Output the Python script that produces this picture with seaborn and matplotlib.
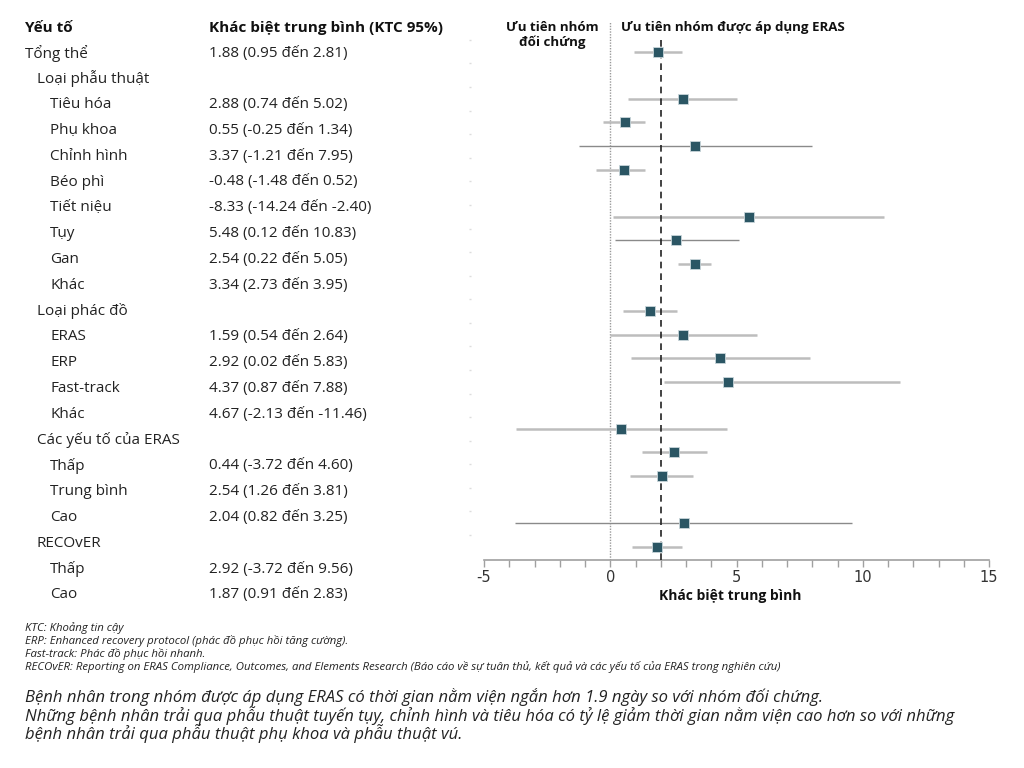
import numpy as np
import pandas as pd
import seaborn as sns
import matplotlib.pyplot as plt

sns.set_theme(style='white')
plt.rcParams['font.family'] = ['Open Sans', 'DejaVu Sans']
plt.rcParams['axes.unicode_minus'] = False

# table rows (label, indent level)
labels = ['Tổng thể', 'Loại phẫu thuật', 'Tiêu hóa', 'Phụ khoa', 'Chỉnh hình',
          'Béo phì', 'Tiết niệu', 'Tụy', 'Gan', 'Khác', 'Loại phác đồ', 'ERAS',
          'ERP', 'Fast-track', 'Khác', 'Các yếu tố của ERAS', 'Thấp',
          'Trung bình', 'Cao', 'RECOvER', 'Thấp', 'Cao']
levels = [0, 1, 2, 2, 2, 2, 2, 2, 2, 2, 1, 2, 2, 2, 2, 1, 2, 2, 2, 1, 2, 2]

# values printed in the table (None = group header)
tab_est = [1.88, None, 2.88, 0.55, 3.37, -0.48, -8.33, 5.48, 2.54, 3.34, None,
           1.59, 2.92, 4.37, 4.67, None, 0.44, 2.54, 2.04, None, 2.92, 1.87]
tab_lo = [0.95, None, 0.74, -0.25, -1.21, -1.48, -14.24, 0.12, 0.22, 2.73, None,
          0.54, 0.02, 0.87, -2.13, None, -3.72, 1.26, 0.82, None, -3.72, 0.91]
tab_hi = [2.81, None, 5.02, 1.34, 7.95, 0.52, -2.40, 10.83, 5.05, 3.95, None,
          2.64, 5.83, 7.88, -11.46, None, 4.60, 3.81, 3.25, None, 9.56, 2.83]

nan = np.nan
plot_est = [1.88, nan, 2.88, 0.57, 3.37, 0.55, nan, 5.48, 2.62, 3.35, nan,
            1.59, 2.90, 4.36, 4.67, nan, 0.43, 2.52, 2.03, nan, 2.92, 1.87]
plot_lo = [0.93, nan, 0.70, -0.30, -1.23, -0.57, nan, 0.10, 0.18, 2.70, nan,
           0.52, 0.00, 0.82, 2.12, nan, -3.75, 1.26, 0.78, nan, -3.77, 0.88]
plot_hi = [2.85, nan, 5.03, 1.37, 8.00, 1.39, nan, 10.85, 5.10, 3.97, nan,
           2.65, 5.82, 7.93, 11.46, nan, 4.62, 3.85, 3.29, nan, 9.58, 2.86]
ref_line = 2.0

xticks = [-5, 0, 5, 10, 15]

df = pd.DataFrame({'row': np.arange(len(labels)), 'est': plot_est,
                   'lo': plot_lo, 'hi': plot_hi}).dropna()

W, H = 1024, 768
fig = plt.figure(figsize=(W / 100, H / 100), dpi=100)


def fx(px):
    return px / W


def fy(py):
    return 1 - py / H


# forest plot axes
ax = fig.add_axes([fx(471.4), fy(560), fx(989 - 471.4), (560 - 22) / H])
ax.set_xlim(-5.5, 15)
ax.set_ylim(21.56, -1.26)

dark_rows = {4, 8, 20}
for _, r in df.iterrows():
    dark = int(r['row']) in dark_rows
    ax.hlines(r['row'], r['lo'], r['hi'], color='#8a8a8a' if dark else '#bdbdbd',
              lw=1.0 if dark else 1.8, zorder=2)

ax.axvline(0, color='#9a9a9a', ls=(0, (1, 1)), lw=1.0, zorder=1)
ax.vlines(ref_line, -0.5, 21.56, color='#222222', ls=(0, (4, 3)), lw=1.2, zorder=3)

sns.scatterplot(data=df, x='est', y='row', marker='s', s=55, color='#2b5664',
                edgecolor='#c9d6da', linewidth=0.6, ax=ax, zorder=4, legend=False)

for s in ['top', 'right', 'left']:
    ax.spines[s].set_visible(False)
ax.spines['bottom'].set_bounds(-5, 15)
ax.spines['bottom'].set_color('#a0a0a0')
ax.spines['bottom'].set_linewidth(1.2)
ax.set_xticks(xticks)
ax.set_xticks(np.arange(-5, 16, 1), minor=True)
ax.tick_params(axis='x', which='both', bottom=True, direction='out', length=5,
               width=1, color='#a0a0a0', labelsize=10.5, labelcolor='#333333', pad=2)
ax.tick_params(axis='x', which='minor', labelbottom=False)
for t in ax.get_xticklabels():
    t.set_family('DejaVu Sans')
ax.set_yticks(np.arange(-0.5, 21, 1))
ax.set_yticklabels([])
ax.tick_params(axis='y', length=1.5, width=1, color='#dddddd', left=True)
ax.set_xlabel('Khác biệt trung bình', fontsize=10, fontweight='bold',
              color='#111111', labelpad=3)
ax.set_ylabel('')

# headers over the plot
fig.text(fx(552), fy(35), 'Ưu tiên nhóm\nđối chứng', ha='center', va='center',
         fontsize=9.5, fontweight='bold', color='#111111', linespacing=1.2)
fig.text(fx(621), fy(27), 'Ưu tiên nhóm được áp dụng ERAS', ha='left', va='center',
         fontsize=9.5, fontweight='bold', color='#111111')

# table
fig.text(fx(25), fy(28), 'Yếu tố', fontsize=11, fontweight='bold', va='center',
         color='#111111')
fig.text(fx(209), fy(28), 'Khác biệt trung bình (KTC 95%)', fontsize=11,
         fontweight='bold', va='center', color='#111111')
indent = [25, 37, 50]
row_y0, row_dy = 53, 25.8
for i, (lab, lev) in enumerate(zip(labels, levels)):
    y = row_y0 + i * row_dy
    fig.text(fx(indent[lev]), fy(y), lab, fontsize=11, va='center', color='#222222')
    if tab_est[i] is not None:
        txt = f'{tab_est[i]:.2f} ({tab_lo[i]:.2f} đến {tab_hi[i]:.2f})'
        fig.text(fx(209), fy(y), txt, fontsize=11, va='center', color='#222222')

# footnotes
notes = ['KTC: Khoảng tin cậy',
         'ERP: Enhanced recovery protocol (phác đồ phục hồi tăng cường).',
         'Fast-track: Phác đồ phục hồi nhanh.',
         'RECOvER: Reporting on ERAS Compliance, Outcomes, and Elements Research '
         '(Báo cáo về sự tuân thủ, kết quả và các yếu tố của ERAS trong nghiên cứu)']
for i, n in enumerate(notes):
    fig.text(fx(25), fy(628 + i * 13), n, fontsize=8.2, style='italic',
             va='center', color='#222222')

summary = ['Bệnh nhân trong nhóm được áp dụng ERAS có thời gian nằm viện ngắn hơn 1.9 ngày so với nhóm đối chứng.',
           'Những bệnh nhân trải qua phẫu thuật tuyến tụy, chỉnh hình và tiêu hóa có tỷ lệ giảm thời gian nằm viện cao hơn so với những',
           'bệnh nhân trải qua phẫu thuật phụ khoa và phẫu thuật vú.']
for i, s in enumerate(summary):
    fig.text(fx(25), fy(697 + i * 18.5), s, fontsize=12, style='italic',
             va='center', color='#222222')

fig.savefig('out.png', dpi=100)
